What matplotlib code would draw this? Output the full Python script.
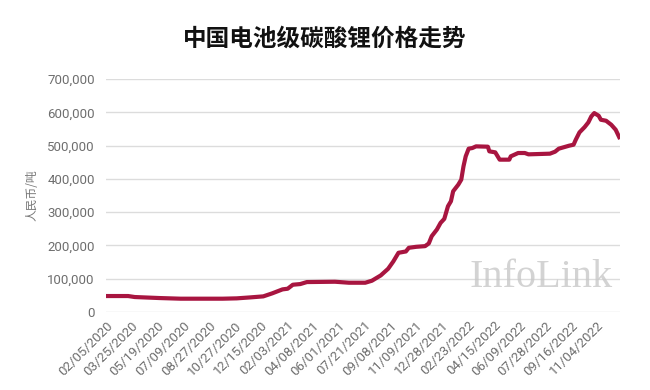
import matplotlib.pyplot as plt

plt.rcParams['font.family'] = ['Noto Sans CJK SC', 'DejaVu Sans']

# 交易日序号（共 697 个点）与价格（人民币/吨）
day_idx = [0, 30, 39, 72, 101, 120, 158, 177, 196, 213, 225, 239, 246, 253, 263,
           272, 310, 329, 351, 360, 372, 382, 389, 396, 406, 410, 420, 432, 437,
           441, 448, 453, 458, 463, 467, 470, 477, 481, 484, 487, 491, 496, 501,
           517, 519, 527, 533, 546, 548, 558, 567, 572, 601, 608, 613, 627, 633,
           636, 641, 648, 653, 657, 661, 667, 670, 677, 684, 690, 696]
price = [48000, 48000, 45000, 42000, 40000, 40000, 40000, 41000, 44000, 47000,
         56000, 68000, 70000, 82000, 84000, 90000, 91000, 88000, 88000, 94000,
         110000, 130000, 152000, 178000, 182000, 193000, 196000, 198000, 206000,
         228000, 248000, 268000, 280000, 318000, 333000, 363000, 383000, 398000,
         438000, 468000, 491000, 493000, 498000, 497000, 483000, 480000, 458000,
         458000, 468000, 478000, 478000, 474000, 476000, 482000, 491000, 500000,
         503000, 518000, 540000, 556000, 570000, 588000, 598000, 590000, 578000,
         575000, 563000, 548000, 520000]

tick_labels = ['02/05/2020', '03/25/2020', '05/19/2020', '07/09/2020', '08/27/2020',
               '10/27/2020', '12/15/2020', '02/03/2021', '04/08/2021', '06/01/2021',
               '07/21/2021', '09/08/2021', '11/09/2021', '12/28/2021', '02/23/2022',
               '04/15/2022', '06/09/2022', '07/28/2022', '09/16/2022', '11/04/2022']
y_ticks = [0, 100000, 200000, 300000, 400000, 500000, 600000, 700000]

fig = plt.figure(figsize=(6.5, 3.9), dpi=100)
ax = fig.add_axes([0.163, 0.2, 0.791, 0.597])

ax.plot(day_idx, price, color='#a81540', linewidth=3.0, solid_capstyle='butt')

ax.set_xlim(0, 696)
ax.set_ylim(0, 700000)
ax.set_yticks(y_ticks)
ax.set_yticklabels([f'{v:,}' for v in y_ticks])
ax.set_xticks([i * 35 for i in range(len(tick_labels))])
ax.set_xticklabels(tick_labels, rotation=45, ha='right', rotation_mode='anchor')

ax.grid(axis='y', color='#dcdcdc', linewidth=1)
ax.set_axisbelow(True)
for s in ax.spines.values():
    s.set_visible(False)
ax.tick_params(axis='both', length=0, colors='#6e6e6e', pad=8)
ax.tick_params(axis='x', pad=5)
for lab in ax.get_xticklabels() + ax.get_yticklabels():
    lab.set_family(['Roboto', 'DejaVu Sans'])
    lab.set_fontsize(9.5)

ax.set_ylabel('人民币/吨', fontsize=8.5, color='#777777', labelpad=6)
fig.text(0.5, 0.9, '中国电池级碳酸锂价格走势', ha='center', va='center',
         fontsize=17, fontweight='bold', color='#111111')

# 水印
ax.text(0.985, 0.15, 'InfoLink', transform=ax.transAxes, ha='right', va='center',
        fontsize=29, family='Liberation Serif', color='#c8c8c8', alpha=0.8)

fig.savefig('out.png', dpi=100)
